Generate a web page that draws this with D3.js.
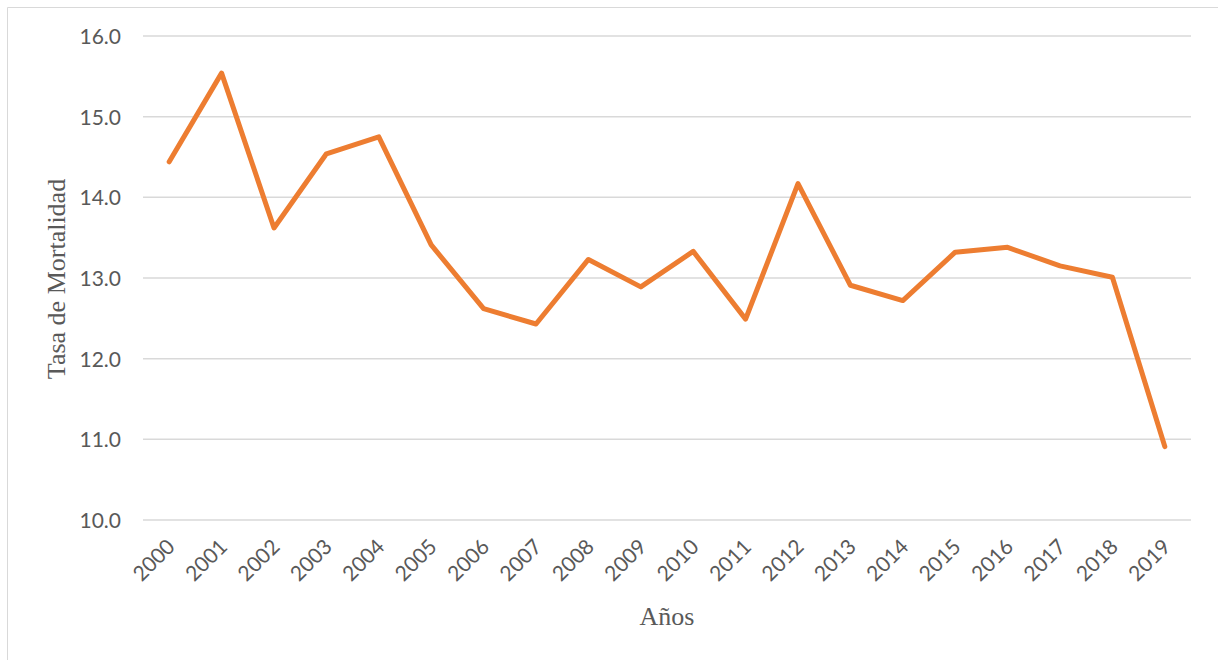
<!DOCTYPE html>
<html>
<head>
<meta charset="utf-8">
<script src="https://cdn.jsdelivr.net/npm/d3@7"></script>
<style>
  html, body { margin: 0; padding: 0; background: #ffffff; }
  svg { display: block; }
</style>
</head>
<body>
<svg id="chart" width="1218" height="660"></svg>
<script>
const years = ["2000","2001","2002","2003","2004","2005","2006","2007","2008","2009","2010","2011","2012","2013","2014","2015","2016","2017","2018","2019"];
const rates = [14.44,15.54,13.62,14.54,14.75,13.41,12.62,12.43,13.23,12.89,13.33,12.49,14.17,12.91,12.72,13.32,13.38,13.15,13.01,10.91];
const yTicks = [10,11,12,13,14,15,16];

(function () {
const svg = d3.select("#chart");
const W = 1218, H = 660;
const mLeft = 143, mRight = 1191, mTop = 36, mBottom = 520;

// chart frame (top and left edges visible)
svg.append("line").attr("x1", 7.5).attr("x2", W).attr("y1", 7.5).attr("y2", 7.5)
  .attr("stroke", "#d9d9d9").attr("stroke-width", 1);
svg.append("line").attr("x1", 7.5).attr("x2", 7.5).attr("y1", 7.5).attr("y2", H)
  .attr("stroke", "#d9d9d9").attr("stroke-width", 1);

const x = d3.scaleBand().domain(years).range([mLeft, mRight]);
const y = d3.scaleLinear().domain([10, 16]).range([mBottom, mTop]);

// gridlines
svg.append("g").selectAll("line").data(yTicks).join("line")
  .attr("x1", mLeft).attr("x2", mRight)
  .attr("y1", d => y(d)).attr("y2", d => y(d))
  .attr("stroke", "#d9d9d9").attr("stroke-width", 1.5);

// y axis labels
const yAxis = d3.axisLeft(y).tickValues(yTicks).tickFormat(d3.format(".1f")).tickSize(0).tickPadding(22);
const gy = svg.append("g").attr("transform", `translate(${mLeft},0)`).call(yAxis);
gy.select(".domain").remove();
gy.selectAll("text").attr("font-family", "Lato, 'Open Sans', sans-serif").attr("font-size", 21)
  .attr("fill", "#595959").attr("dy", "0.36em");

// x axis labels
const xAxis = d3.axisBottom(x).tickSize(0).tickPadding(0);
const gx = svg.append("g").attr("transform", `translate(0,${mBottom})`).call(xAxis);
gx.select(".domain").remove();
gx.selectAll("text")
  .attr("font-family", "Lato, 'Open Sans', sans-serif").attr("font-size", 21)
  .attr("fill", "#595959")
  .attr("text-anchor", "end")
  .attr("dy", null)
  .attr("y", 0)
  .attr("transform", "translate(1,22) rotate(-45)")
  .attr("dominant-baseline", "central");

// line
const line = d3.line().x((d, i) => x(years[i]) + x.bandwidth() / 2).y(d => y(d));
svg.append("path").datum(rates)
  .attr("d", line)
  .attr("fill", "none")
  .attr("stroke", "#ed7d31")
  .attr("stroke-width", 5)
  .attr("stroke-linejoin", "round")
  .attr("stroke-linecap", "round");

// axis titles
svg.append("text").text("Años")
  .attr("x", 667).attr("y", 625)
  .attr("text-anchor", "middle")
  .attr("font-family", "'Liberation Serif', 'Times New Roman', serif")
  .attr("font-size", 26).attr("fill", "#595959");

svg.append("text").text("Tasa de Mortalidad")
  .attr("transform", "translate(65,279) rotate(-90)")
  .attr("text-anchor", "middle")
  .attr("font-family", "'Liberation Serif', 'Times New Roman', serif")
  .attr("font-size", 26).attr("fill", "#595959");
})();
</script>
</body>
</html>
